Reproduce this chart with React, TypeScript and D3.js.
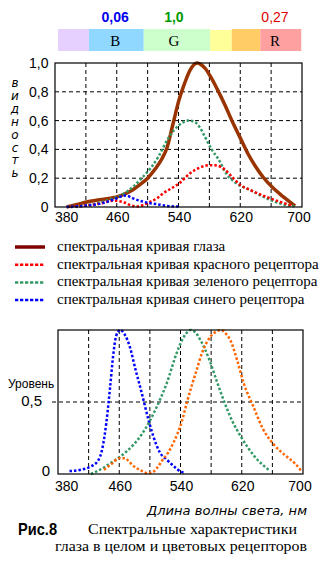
import React from 'react';
import * as d3 from 'd3';

// ---------- data ----------
const xTickLabels = [380, 460, 540, 620, 700];
const xGridValues = [420, 460, 500, 540, 580, 620, 660];
const topYTicks = [0, 0.2, 0.4, 0.6, 0.8, 1.0];
const topYGrid = [0.2, 0.4, 0.6, 0.8];
const bottomYTicks = [0, 0.5];
const bottomYGrid = [0.5];

// spectrum band boundaries (nm) and colours
const bandEdges = [384, 424, 495, 581, 609, 646, 699];
const bandColors = ['#e6d0ff', '#90d8ff', '#ccffcc', '#ffff99', '#ffcc66', '#ffa0a0'];
const bandLetters = [
  { letter: 'B', nm: 458, value: '0,06', color: '#0000ee', bold: true },
  { letter: 'G', nm: 534, value: '1,0', color: '#009900', bold: true },
  { letter: 'R', nm: 665, value: '0,27', color: '#dd0000', bold: false },
];

// top chart: visibility curves
const eyeCurve: [number, number][] = [
  [395, 0], [410, 0.02], [421, 0.035], [438, 0.05], [460, 0.07], [470, 0.09], [481, 0.12],
  [490, 0.155], [500, 0.2], [510, 0.265], [518, 0.33], [525, 0.41], [533, 0.58], [541, 0.75],
  [548, 0.86], [555, 0.95], [564, 1.0], [569, 0.99], [575, 0.96], [581, 0.91], [590, 0.82],
  [600, 0.71], [610, 0.59], [620, 0.48], [630, 0.37], [640, 0.28], [650, 0.205], [661, 0.14],
  [676, 0.07], [691, 0.007],
];
const redTop: [number, number][] = [
  [400, 0], [420, 0.01], [440, 0.025], [456, 0.044], [468, 0.035], [478, 0.012], [486, 0.004],
  [495, 0.015], [503, 0.035], [512, 0.06], [520, 0.095], [531, 0.13], [541, 0.165], [555, 0.234],
  [568, 0.275], [581, 0.29], [587, 0.29], [598, 0.268], [611, 0.2], [620, 0.153], [633, 0.118],
  [654, 0.07], [671, 0.037], [688, 0.007],
];
const greenTop: [number, number][] = [
  [400, 0], [430, 0.02], [450, 0.05], [465, 0.08], [481, 0.14], [494, 0.21], [504, 0.27],
  [514, 0.35], [527, 0.48], [541, 0.57], [553, 0.6], [561, 0.59], [568, 0.55], [574, 0.49],
  [583, 0.4], [592, 0.33], [602, 0.23], [615, 0.165], [633, 0.118], [654, 0.06], [671, 0.025],
  [690, 0.005],
];
const blueTop: [number, number][] = [
  [395, 0], [420, 0.01], [440, 0.025], [455, 0.05], [465, 0.072], [472, 0.08], [481, 0.06],
  [494, 0.037], [505, 0.025], [514, 0.018], [525, 0.007], [541, 0.003],
];

// bottom chart: normalised receptor curves
const blueBottom: [number, number][] = [
  [395, 0.02], [410, 0.03], [422, 0.05], [432, 0.09], [438, 0.18], [443, 0.35], [448, 0.6],
  [452, 0.82], [456, 0.96], [461, 1.0], [467, 0.97], [474, 0.88], [481, 0.73], [489, 0.57],
  [498, 0.38], [504, 0.27], [513, 0.15], [522, 0.1], [532, 0.05], [541, 0.015], [546, 0.01],
];
const greenBottom: [number, number][] = [
  [423, 0], [435, 0.03], [447, 0.07], [461, 0.12], [478, 0.2], [490, 0.28], [500, 0.37],
  [511, 0.49], [522, 0.63], [535, 0.84], [542, 0.93], [548, 0.98], [553, 1.0], [560, 0.98],
  [566, 0.93], [578, 0.79], [587, 0.65], [598, 0.49], [607, 0.375], [620, 0.25], [637, 0.12],
  [655, 0.03],
];
const orangeBottom: [number, number][] = [
  [440, 0.03], [450, 0.07], [460, 0.11], [467, 0.11], [474, 0.08], [480, 0.05], [490, 0.02],
  [497, 0.005], [503, 0.01], [509, 0.04], [517, 0.1], [524, 0.15], [531, 0.22], [536, 0.28],
  [542, 0.37], [548, 0.49], [555, 0.62], [561, 0.72], [568, 0.84], [575, 0.92], [580, 0.96],
  [587, 0.99], [593, 1.0], [600, 0.97], [605, 0.93], [614, 0.79], [622, 0.64], [635, 0.47],
  [648, 0.31], [661, 0.21], [670, 0.16], [679, 0.12], [690, 0.07], [698, 0.02],
];

const legendItems = [
  { label: 'спектральная кривая глаза', color: '#800000', dotted: false },
  { label: 'спектральная кривая красного рецептора', color: '#ff0000', dotted: true },
  { label: 'спектральная кривая зеленого рецептора', color: '#339966', dotted: true },
  { label: 'спектральная кривая синего рецептора', color: '#0000ff', dotted: true },
];

const yAxisTitle = 'видность';
const bottomYTitle = 'Уровень';
const xAxisTitle = 'Длина волны света, нм';
const figLabel = 'Рис.8';
const captionLines = ['Спектральные характеристики', 'глаза в целом и цветовых рецепторов'];

const fmt = (v: number) => (v === 0 ? '0' : d3.format('.1f')(v).replace('.', ','));

const SANS = 'Arial, "Liberation Sans", sans-serif';
const SERIF = '"Times New Roman", "Liberation Serif", serif';
const OBL = '"DejaVu Sans", sans-serif';

export default function App() {
  const tx = d3.scaleLinear().domain([380, 700]).range([55, 302]);
  const ty = d3.scaleLinear().domain([0, 1]).range([207, 63]);
  const bx = d3.scaleLinear().domain([380, 700]).range([58, 303]);
  const by = d3.scaleLinear().domain([0, 1]).range([474, 330]);

  const topLine = d3.line<[number, number]>().x(d => tx(d[0])).y(d => ty(d[1])).curve(d3.curveMonotoneX);
  const botLine = d3.line<[number, number]>().x(d => bx(d[0])).y(d => by(d[1])).curve(d3.curveMonotoneX);

  const dash = '4 3';
  const dot = '2.5 2';

  const tickLabelX = (scale: d3.ScaleLinear<number, number>, v: number, i: number, n: number) => {
    if (i === 0) return { x: scale(v), anchor: 'start' as const };
    if (i === n - 1) return { x: scale(v) - 3, anchor: 'middle' as const };
    return { x: scale(v) + 1, anchor: 'middle' as const };
  };

  return (
    <svg width={326} height={566} style={{ position: 'absolute', left: 0, top: 0, background: '#fff' }}>
      <rect width={326} height={566} fill="#fff" />
      {/* spectrum bar */}
      {bandColors.map((c, i) => (
        <rect key={i} x={tx(bandEdges[i])} y={i === 3 ? 30 : 29} width={tx(bandEdges[i + 1]) - tx(bandEdges[i])}
          height={i === 3 ? 21 : 22} fill={c} />
      ))}
      {bandLetters.map(b => (
        <g key={b.letter}>
          <text x={tx(b.nm)} y={46} textAnchor="middle" fontFamily={SERIF} fontSize={15} fill="#000">{b.letter}</text>
          <text x={tx(b.nm)} y={21.5} textAnchor="middle" fontFamily={SANS} fontSize={14}
            fontWeight={b.bold ? 'bold' : 'normal'} fill={b.color}>{b.value}</text>
        </g>
      ))}

      {/* ---------- top chart ---------- */}
      {xGridValues.map(v => (
        <line key={'tg' + v} x1={tx(v)} x2={tx(v)} y1={ty(0)} y2={ty(1)} stroke="#000" strokeDasharray={dash} />
      ))}
      {topYGrid.map(v => (
        <line key={'th' + v} x1={tx(380)} x2={tx(700)} y1={ty(v)} y2={ty(v)} stroke="#000" strokeDasharray={dash} />
      ))}
      <path d={topLine(eyeCurve)!} fill="none" stroke="#993300" strokeWidth={3.5} />
      <path d={topLine(greenTop)!} fill="none" stroke="#339966" strokeWidth={2.5} strokeDasharray={dot} />
      <path d={topLine(redTop)!} fill="none" stroke="#ff0000" strokeWidth={2.5} strokeDasharray={dot} />
      <path d={topLine(blueTop)!} fill="none" stroke="#0000ff" strokeWidth={2.5} strokeDasharray={dot} />
      <rect x={tx(380)} y={ty(1)} width={tx(700) - tx(380)} height={ty(0) - ty(1)} fill="none" stroke="#000" strokeWidth={1.2} />
      {topYTicks.map(v => (
        <text key={'ty' + v} x={48.5} y={ty(v) + 5} textAnchor="end" fontFamily={SANS} fontSize={14} fill="#000">{fmt(v)}</text>
      ))}
      {xTickLabels.map((v, i) => {
        const p = tickLabelX(tx, v, i, xTickLabels.length);
        return <text key={'tx' + v} x={p.x} y={222} textAnchor={p.anchor} fontFamily={SANS} fontSize={14} fill="#000">{v}</text>;
      })}
      {yAxisTitle.split('').map((ch, i) => (
        <text key={'yt' + i} x={15} y={87 + i * 12.9} textAnchor="middle" fontFamily={OBL} fontStyle="italic" fontSize={12} fill="#000">{ch}</text>
      ))}

      {/* ---------- legend ---------- */}
      {legendItems.map((it, i) => {
        const yy = 247 + i * 17.7;
        return (
          <g key={'lg' + i}>
            <line x1={15} x2={45} y1={yy} y2={yy} stroke={it.color} strokeWidth={it.dotted ? 2.5 : 3.5}
              strokeDasharray={it.dotted ? '3.3 1.7' : undefined} />
            <text x={57} y={yy + 4} fontFamily={SERIF} fontSize={15} fill="#000">{it.label}</text>
          </g>
        );
      })}

      {/* ---------- bottom chart ---------- */}
      {xGridValues.map(v => (
        <line key={'bg' + v} x1={bx(v)} x2={bx(v)} y1={by(0)} y2={by(1)} stroke="#000" strokeDasharray={dash} />
      ))}
      {bottomYGrid.map(v => (
        <line key={'bh' + v} x1={52} x2={bx(700)} y1={by(v)} y2={by(v)} stroke="#000" strokeDasharray={dash} />
      ))}
      <path d={botLine(blueBottom)!} fill="none" stroke="#0000ff" strokeWidth={2.5} strokeDasharray={dot} />
      <path d={botLine(greenBottom)!} fill="none" stroke="#339966" strokeWidth={2.5} strokeDasharray={dot} />
      <path d={botLine(orangeBottom)!} fill="none" stroke="#ff6600" strokeWidth={2.5} strokeDasharray={dot} />
      <rect x={bx(380)} y={by(1)} width={bx(700) - bx(380)} height={by(0) - by(1)} fill="none" stroke="#000" strokeWidth={1.2} />
      {bottomYTicks.map(v => (
        <text key={'by' + v} x={v === 0 ? 50 : 42} y={by(v) + (v === 0 ? 2 : 4)} textAnchor="end" fontFamily={SANS} fontSize={15} fill="#000">{fmt(v)}</text>
      ))}
      <text x={8} y={388} fontFamily={SANS} fontSize={12} fill="#000">{bottomYTitle}</text>
      {xTickLabels.map((v, i) => {
        const p = tickLabelX(bx, v, i, xTickLabels.length);
        return <text key={'bx' + v} x={i === 0 ? p.x - 3 : p.x} y={490.5} textAnchor={p.anchor} fontFamily={SANS} fontSize={14} fill="#000">{v}</text>;
      })}
      <text x={147} y={515} fontFamily={OBL} fontStyle="italic" fontSize={12} textLength={160} lengthAdjust="spacingAndGlyphs" fill="#000">{xAxisTitle}</text>

      {/* caption */}
      <text x={18} y={535} fontFamily={SANS} fontWeight="bold" fontSize={17} textLength={39} lengthAdjust="spacingAndGlyphs" fill="#000">{figLabel}</text>
      <text x={88} y={534} fontFamily={SERIF} fontSize={15} textLength={209} lengthAdjust="spacingAndGlyphs" fill="#000">{captionLines[0]}</text>
      <text x={55} y={550.5} fontFamily={SERIF} fontSize={15} textLength={252} lengthAdjust="spacingAndGlyphs" fill="#000">{captionLines[1]}</text>
    </svg>
  );
}
